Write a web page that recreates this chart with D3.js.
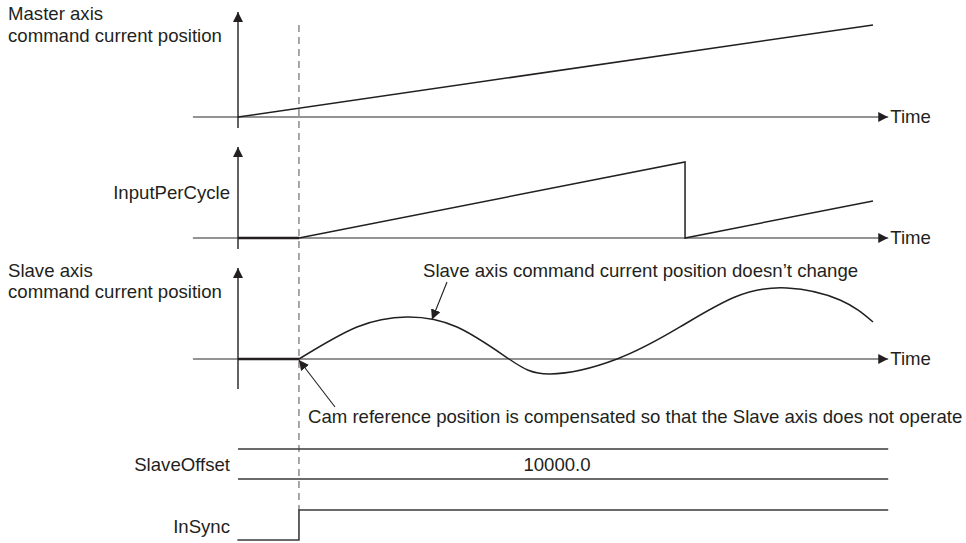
<!DOCTYPE html>
<html><head><meta charset="utf-8">
<script src="https://cdn.jsdelivr.net/npm/d3@7"></script>
<style>
html,body{margin:0;padding:0;background:#fff;}
svg{display:block;font-family:"Liberation Sans",Arial,sans-serif;}
</style></head>
<body><svg id="c" width="966" height="543"></svg>
<script>
// ---- data ----
const panelLabels = [["Master axis","command current position"],["InputPerCycle"],["Slave axis","command current position"]];
const timeLabel = "Time";
const syncTime = 9.6;
const masterT = [0, 100];
const masterV = [0, 100];
const inputT = [0, 9.6, 70.4, 70.4, 100];
const inputV = [0, 0, 100, 0, 48.7];
const slaveT = [0, 9.6, 18.74, 26.61, 34.49, 42.68, 49.13, 59.69, 69.61, 78.27, 86.46, 94.80, 100];
const slaveV = [0, 0, 45.1, 59.2, 45.1, 0, -21.1, 0, 45.1, 87.3, 100, 83.1, 52.1];
const inSyncT = [-0.1, 9.6, 9.6, 102.4];
const inSyncV = [0, 0, 1, 1];
const slaveOffsetLabel = "SlaveOffset";
const slaveOffsetValue = "10000.0";
const inSyncLabel = "InSync";
const noteTop = "Slave axis command current position doesn\u2019t change";
const noteBottom = "Cam reference position is compensated so that the Slave axis does not operate";

// ---- layout ----
const svg = d3.select("#c");
const x = d3.scaleLinear().domain([0, 100]).range([238, 873]);
const y1 = d3.scaleLinear().domain([0, 100]).range([117, 25]);
const y2 = d3.scaleLinear().domain([0, 100]).range([238, 162]);
const y3 = d3.scaleLinear().domain([0, 100]).range([359, 288]);
const yS = d3.scaleLinear().domain([0, 1]).range([540, 510]);
const ink = "#231f20", gray = "#6f6f6f";
const FS = 18.6;

const defs = svg.append("defs");
defs.append("marker").attr("id","ah").attr("viewBox","0 0 10 10").attr("refX",10).attr("refY",5)
  .attr("markerWidth",10).attr("markerHeight",10).attr("markerUnits","userSpaceOnUse").attr("orient","auto")
  .append("path").attr("d","M0,0L10,5L0,10Z").attr("fill",ink);

const tAxisStart = -7.1, tAxisEnd = 102.4;
const panels = [{y:y1, top:12, bot:128},{y:y2, top:147, bot:249},{y:y3, top:268, bot:389}];

// dashed sync line
svg.append("line").attr("x1",x(syncTime)).attr("x2",x(syncTime)).attr("y1",25).attr("y2",yS(1))
  .attr("stroke","#7a7a7a").attr("stroke-width",1.3).attr("stroke-dasharray","7,5");

panels.forEach(p=>{
  const y0 = p.y(0);
  svg.append("line").attr("x1",x(tAxisStart)).attr("x2",x(tAxisEnd)).attr("y1",y0).attr("y2",y0)
    .attr("stroke",gray).attr("stroke-width",1.6).attr("marker-end","url(#ah)");
  svg.append("text").attr("x",x(tAxisEnd)+2).attr("y",y0+6).attr("font-size",FS).attr("fill",ink).text(timeLabel);
  svg.append("line").attr("x1",x(0)).attr("x2",x(0)).attr("y1",p.bot).attr("y2",p.top)
    .attr("stroke",ink).attr("stroke-width",1.4).attr("marker-end","url(#ah)");
});

// labels
const lab1 = svg.append("text").attr("font-size",FS).attr("fill",ink);
lab1.append("tspan").attr("x",8).attr("y",20).text(panelLabels[0][0]);
lab1.append("tspan").attr("x",8).attr("y",42).text(panelLabels[0][1]);
svg.append("text").attr("font-size",FS).attr("fill",ink).attr("text-anchor","end").attr("x",230).attr("y",199).text(panelLabels[1][0]);
const lab3 = svg.append("text").attr("font-size",FS).attr("fill",ink);
lab3.append("tspan").attr("x",8).attr("y",277).text(panelLabels[2][0]);
lab3.append("tspan").attr("x",8).attr("y",298).text(panelLabels[2][1]);

// signals
function drawLine(T,V,ys,curve){
  const data = T.map((t,i)=>[t,V[i]]);
  svg.append("path").datum(data).attr("fill","none").attr("stroke",ink).attr("stroke-width",1.5)
    .attr("stroke-linejoin","miter")
    .attr("d", d3.line().x(d=>x(d[0])).y(d=>ys(d[1])).curve(curve||d3.curveLinear));
}
drawLine(masterT, masterV, y1);
drawLine(inputT, inputV, y2);
const flatIdx = slaveT.indexOf(syncTime);
drawLine(slaveT.slice(0,flatIdx+1), slaveV.slice(0,flatIdx+1), y3);
drawLine(slaveT.slice(flatIdx), slaveV.slice(flatIdx), y3, d3.curveNatural);
[y2,y3].forEach(ys=>{
  svg.append("line").attr("x1",x(0)).attr("x2",x(syncTime)).attr("y1",ys(0)).attr("y2",ys(0))
    .attr("stroke",ink).attr("stroke-width",2.4);
});

// annotations
svg.append("text").attr("font-size",FS).attr("fill",ink).attr("x",423).attr("y",277).text(noteTop);
svg.append("line").attr("x1",447).attr("y1",282).attr("x2",432).attr("y2",y3(56.3)+0.5)
  .attr("stroke",ink).attr("stroke-width",1.1).attr("marker-end","url(#ah)");
svg.append("text").attr("font-size",FS).attr("fill",ink).attr("x",308).attr("y",423).text(noteBottom);
svg.append("line").attr("x1",335).attr("y1",407).attr("x2",x(syncTime)).attr("y2",y3(0)+1)
  .attr("stroke",ink).attr("stroke-width",1.1).attr("marker-end","url(#ah)");

// SlaveOffset bus
[449,479].forEach(yy=>{
  svg.append("line").attr("x1",x(0)).attr("x2",x(tAxisEnd)).attr("y1",yy).attr("y2",yy)
    .attr("stroke","#3a3a3a").attr("stroke-width",1.6);
});
svg.append("text").attr("font-size",FS).attr("fill",ink).attr("text-anchor","end").attr("x",230).attr("y",471).text(slaveOffsetLabel);
svg.append("text").attr("font-size",FS).attr("fill",ink).attr("text-anchor","middle").attr("x",557).attr("y",471).text(slaveOffsetValue);

// InSync
svg.append("path").datum(inSyncT.map((t,i)=>[t,inSyncV[i]])).attr("fill","none").attr("stroke","#3a3a3a").attr("stroke-width",1.6)
  .attr("d", d3.line().x(d=>x(d[0])).y(d=>yS(d[1])));
svg.append("text").attr("font-size",FS).attr("fill",ink).attr("text-anchor","end").attr("x",230).attr("y",533).text(inSyncLabel);
</script></body></html>
